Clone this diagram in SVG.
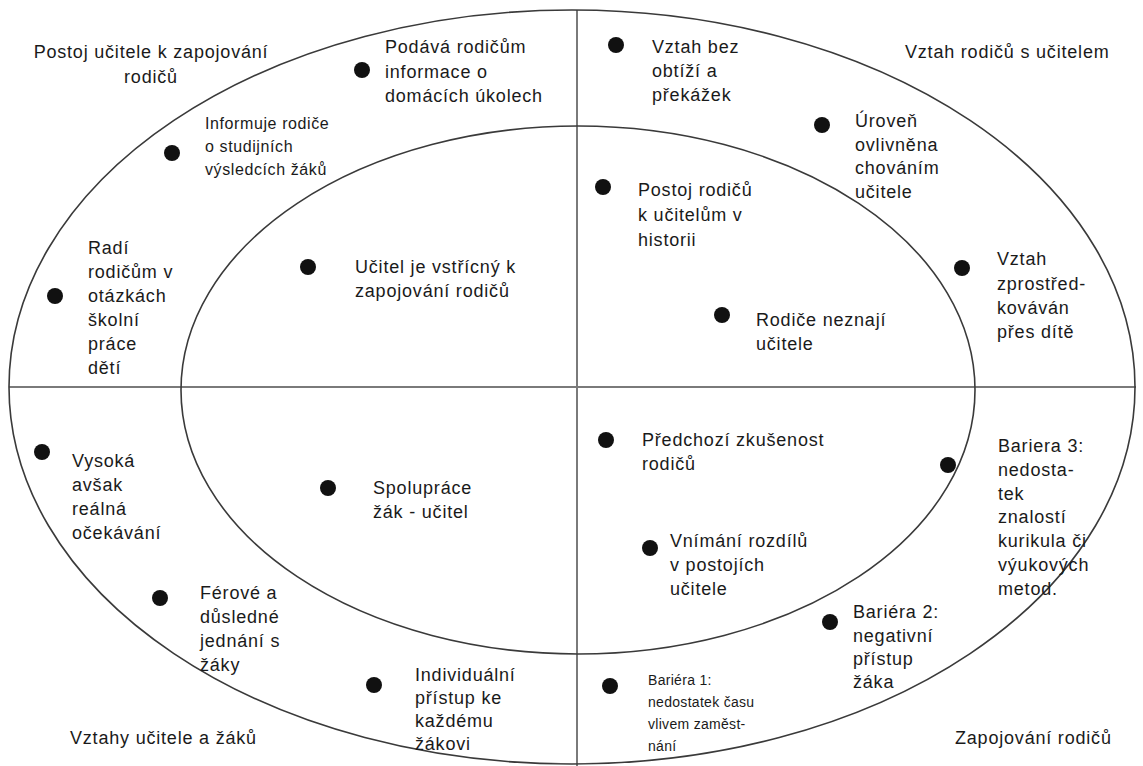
<svg xmlns="http://www.w3.org/2000/svg" width="1143" height="766" viewBox="0 0 1143 766">
<style>
.t{font-family:"Liberation Sans",Arial,sans-serif;font-size:18px;fill:#1a1a1a;letter-spacing:0.8px}
.s{font-size:16px;letter-spacing:0.6px}
.xs{font-size:14px;letter-spacing:0.3px}
.d{fill:#111}
.axis{stroke:#7a7a7a;stroke-width:2;fill:none}
.ring{stroke:#3a3a3a;stroke-width:1.6;fill:none}
</style>
<rect width="1143" height="766" fill="#ffffff"/>
<g id="connectors">
<line class="axis" x1="9" y1="387" x2="1136" y2="387"/>
<line class="axis" x1="577" y1="10" x2="577" y2="766"/>
<ellipse class="ring" cx="572" cy="387" rx="563" ry="377"/>
<ellipse class="ring" cx="578" cy="390" rx="397" ry="264"/>
</g>
<g id="label-tl"><text class="t" text-anchor="middle"><tspan x="151" y="58">Postoj učitele k zapojování</tspan><tspan x="151" y="83">rodičů</tspan></text></g>
<g id="label-tr"><text class="t" x="905" y="58">Vztah rodičů s učitelem</text></g>
<g id="label-bl"><text class="t" x="70" y="744">Vztahy učitele a žáků</text></g>
<g id="label-br"><text class="t" x="955" y="744">Zapojování rodičů</text></g>
<g id="n1"><circle class="d" cx="362" cy="70" r="8"/><text class="t"><tspan x="385" y="53">Podává rodičům</tspan><tspan x="385" y="78">informace o</tspan><tspan x="385" y="102">domácích úkolech</tspan></text></g>
<g id="n2"><circle class="d" cx="172" cy="153" r="8"/><text class="t s"><tspan x="205" y="129">Informuje rodiče</tspan><tspan x="205" y="152">o studijních</tspan><tspan x="205" y="175">výsledcích žáků</tspan></text></g>
<g id="n3"><circle class="d" cx="55" cy="296" r="8"/><text class="t"><tspan x="88" y="254">Radí</tspan><tspan x="88" y="278">rodičům v</tspan><tspan x="88" y="302">otázkách</tspan><tspan x="88" y="326">školní</tspan><tspan x="88" y="350">práce</tspan><tspan x="88" y="374">dětí</tspan></text></g>
<g id="n4"><circle class="d" cx="308" cy="267" r="8"/><text class="t"><tspan x="355" y="273">Učitel je vstřícný k</tspan><tspan x="355" y="297">zapojování rodičů</tspan></text></g>
<g id="n5"><circle class="d" cx="616" cy="45" r="8"/><text class="t"><tspan x="652" y="53">Vztah bez</tspan><tspan x="652" y="77">obtíží a</tspan><tspan x="652" y="101">překážek</tspan></text></g>
<g id="n6"><circle class="d" cx="822" cy="125" r="8"/><text class="t"><tspan x="855" y="127">Úroveň</tspan><tspan x="855" y="151">ovlivněna</tspan><tspan x="855" y="174">chováním</tspan><tspan x="855" y="198">učitele</tspan></text></g>
<g id="n7"><circle class="d" cx="603" cy="187" r="8"/><text class="t"><tspan x="638" y="196">Postoj rodičů</tspan><tspan x="638" y="221">k učitelům v</tspan><tspan x="638" y="246">historii</tspan></text></g>
<g id="n8"><circle class="d" cx="962" cy="268" r="8"/><text class="t"><tspan x="997" y="265">Vztah</tspan><tspan x="997" y="290">zprostřed-</tspan><tspan x="997" y="314">kováván</tspan><tspan x="997" y="338">přes dítě</tspan></text></g>
<g id="n9"><circle class="d" cx="722" cy="315" r="8"/><text class="t"><tspan x="756" y="326">Rodiče neznají</tspan><tspan x="756" y="350">učitele</tspan></text></g>
<g id="n10"><circle class="d" cx="606" cy="440" r="8"/><text class="t"><tspan x="642" y="446">Předchozí zkušenost</tspan><tspan x="642" y="470">rodičů</tspan></text></g>
<g id="n11"><circle class="d" cx="948" cy="465" r="8"/><text class="t"><tspan x="998" y="452">Bariera 3:</tspan><tspan x="998" y="476">nedosta-</tspan><tspan x="998" y="500">tek</tspan><tspan x="998" y="523">znalostí</tspan><tspan x="998" y="547">kurikula či</tspan><tspan x="998" y="571">výukových</tspan><tspan x="998" y="595">metod.</tspan></text></g>
<g id="n12"><circle class="d" cx="42" cy="452" r="8"/><text class="t"><tspan x="72" y="467">Vysoká</tspan><tspan x="72" y="491">avšak</tspan><tspan x="72" y="515">reálná</tspan><tspan x="72" y="539">očekávání</tspan></text></g>
<g id="n13"><circle class="d" cx="328" cy="488" r="8"/><text class="t"><tspan x="373" y="494">Spolupráce</tspan><tspan x="373" y="518">žák - učitel</tspan></text></g>
<g id="n14"><circle class="d" cx="650" cy="548" r="8"/><text class="t"><tspan x="670" y="547">Vnímání rozdílů</tspan><tspan x="670" y="571">v postojích</tspan><tspan x="670" y="595">učitele</tspan></text></g>
<g id="n15"><circle class="d" cx="160" cy="598" r="8"/><text class="t"><tspan x="200" y="599">Férové a</tspan><tspan x="200" y="623">důsledné</tspan><tspan x="200" y="647">jednání s</tspan><tspan x="200" y="671">žáky</tspan></text></g>
<g id="n16"><circle class="d" cx="830" cy="622" r="8"/><text class="t"><tspan x="853" y="618">Bariéra 2:</tspan><tspan x="853" y="642">negativní</tspan><tspan x="853" y="665">přístup</tspan><tspan x="853" y="688">žáka</tspan></text></g>
<g id="n17"><circle class="d" cx="374" cy="685" r="8"/><text class="t"><tspan x="415" y="681">Individuální</tspan><tspan x="415" y="704">přístup ke</tspan><tspan x="415" y="727">každému</tspan><tspan x="415" y="750">žákovi</tspan></text></g>
<g id="n18"><circle class="d" cx="610" cy="686" r="8"/><text class="t xs"><tspan x="648" y="685">Bariéra 1:</tspan><tspan x="648" y="707">nedostatek času</tspan><tspan x="648" y="729">vlivem zaměst-</tspan><tspan x="648" y="751">nání</tspan></text></g>
</svg>
